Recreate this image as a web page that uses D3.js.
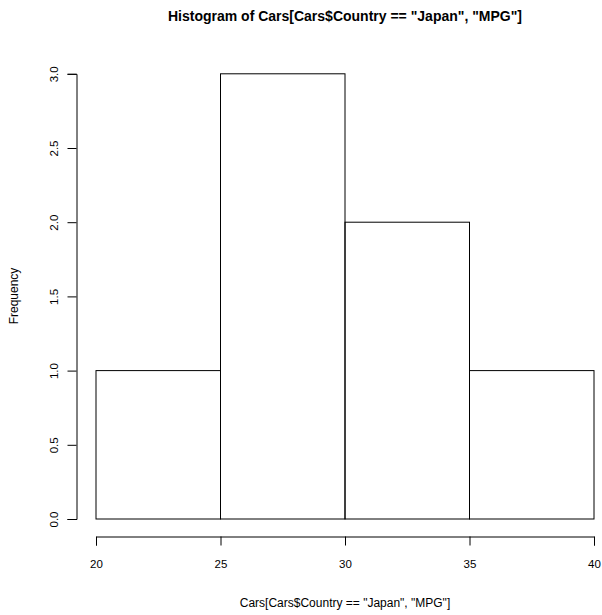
<!DOCTYPE html>
<html>
<head>
<meta charset="utf-8">
<script src="https://cdn.jsdelivr.net/npm/d3@7"></script>
<style>
  body { margin: 0; background: #fff; }
  text { font-family: "Liberation Sans", Arial, sans-serif; fill: #000; }
</style>
</head>
<body>
<div class="chart"></div>
<script>
// histogram bins and counts
var binEdges = [20, 25, 30, 35, 40];
var counts = [1, 3, 2, 1];
var xTicks = [20, 25, 30, 35, 40];
var yTicks = [0, 0.5, 1, 1.5, 2, 2.5, 3];

var width = 602, height = 615;

var x = d3.scaleLinear().domain([20, 40]).range([96, 594]);
var y = d3.scaleLinear().domain([0, 3]).range([519, 73.8]);

var svg = d3.select('.chart').append('svg')
  .attr('width', width)
  .attr('height', height);

// bars
var bins = counts.map(function(c, i) {
  return { x0: binEdges[i], x1: binEdges[i + 1], n: c };
});

svg.selectAll('rect.bar')
  .data(bins)
  .enter().append('rect')
  .attr('class', 'bar')
  .attr('x', function(d) { return x(d.x0); })
  .attr('y', function(d) { return y(d.n); })
  .attr('width', function(d) { return x(d.x1) - x(d.x0); })
  .attr('height', function(d) { return y(0) - y(d.n); })
  .style('fill', 'none')
  .style('stroke', '#000')
  .style('stroke-width', 1);

// x axis
var xAxis = svg.append('g')
  .attr('transform', 'translate(0,536.5)')
  .call(d3.axisBottom(x).tickValues(xTicks).tickSize(9).tickPadding(14)
    .tickFormat(d3.format('d')));
xAxis.selectAll('text').style('font-size', '11.5px');

// y axis
var yAxis = svg.append('g')
  .attr('transform', 'translate(76.5,0)')
  .call(d3.axisLeft(y).tickValues(yTicks).tickSize(9).tickFormat(d3.format('.1f')));
yAxis.selectAll('text')
  .style('font-size', '11.5px')
  .attr('text-anchor', 'middle')
  .attr('x', null)
  .attr('transform', 'translate(-23,0) rotate(-90)')
  .attr('dy', '0.35em');

svg.selectAll('.domain').style('stroke', '#000');
svg.selectAll('.tick line').style('stroke', '#000');

// titles
svg.append('text')
  .attr('x', 345).attr('y', 21)
  .attr('text-anchor', 'middle')
  .style('font-size', '14px')
  .style('font-weight', 'bold')
  .text('Histogram of Cars[Cars$Country == "Japan", "MPG"]');

svg.append('text')
  .attr('x', 345).attr('y', 607)
  .attr('text-anchor', 'middle')
  .style('font-size', '12px')
  .text('Cars[Cars$Country == "Japan", "MPG"]');

svg.append('text')
  .attr('transform', 'translate(18,296) rotate(-90)')
  .attr('text-anchor', 'middle')
  .style('font-size', '12px')
  .text('Frequency');
</script>
</body>
</html>
